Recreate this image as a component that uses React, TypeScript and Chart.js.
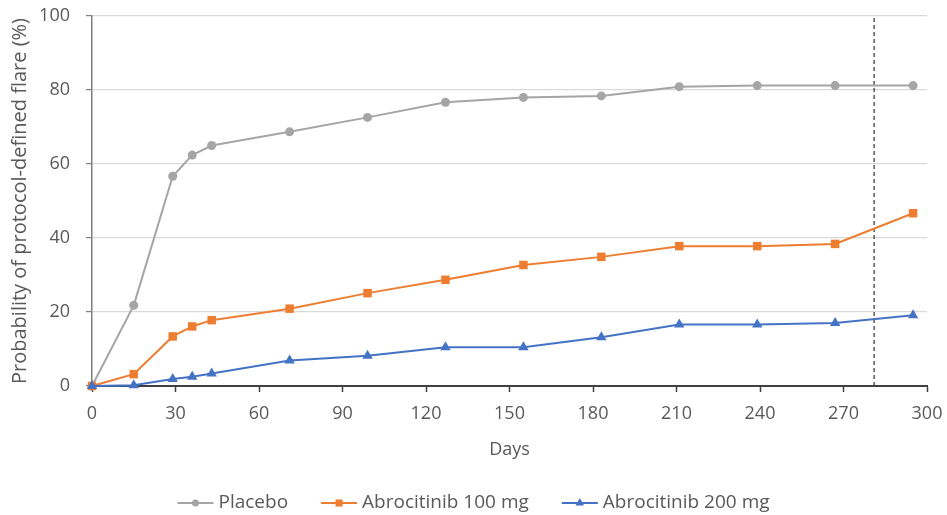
import React, { useEffect, useRef } from "react";
import { Chart, registerables } from "chart.js";

Chart.register(...registerables);

const days = [0, 15, 29, 36, 43, 71, 99, 127, 155, 183, 211, 239, 267, 295];
const placebo = [0, 21.8, 56.7, 62.4, 65.0, 68.7, 72.6, 76.7, 78.0, 78.4, 80.9, 81.2, 81.2, 81.2];
const abro100 = [0, 3.2, 13.4, 16.1, 17.8, 20.9, 25.1, 28.7, 32.7, 34.9, 37.8, 37.8, 38.4, 46.7];
const abro200 = [0, 0.2, 1.9, 2.5, 3.4, 6.9, 8.2, 10.5, 10.5, 13.2, 16.6, 16.6, 17.0, 19.1];
const cutoffDay = 281;
const seriesNames = ["Placebo", "Abrocitinib 100 mg", "Abrocitinib 200 mg"];
const xTicks = [0, 30, 60, 90, 120, 150, 180, 210, 240, 270, 300];
const yTicks = [0, 20, 40, 60, 80, 100];

const FONT = '"Open Sans", "Noto Sans", sans-serif';
const TEXT = "#595959";
const colors = ["#A5A5A5", "#ED7D31", "#4472C4"];
const styles = ["circle", "rect", "triangle"];
const radii = [4.5, 6, 6];

function drawMarker(ctx: CanvasRenderingContext2D, style: string, x: number, y: number, r: number, color: string) {
  ctx.save();
  ctx.fillStyle = color;
  ctx.beginPath();
  if (style === "circle") {
    ctx.arc(x, y, r, 0, Math.PI * 2);
  } else if (style === "rect") {
    const s = r * Math.SQRT1_2;
    ctx.rect(x - s, y - s, 2 * s, 2 * s);
  } else {
    const a = r * Math.cos(Math.PI / 6);
    ctx.moveTo(x, y - r);
    ctx.lineTo(x + a, y + r / 2);
    ctx.lineTo(x - a, y + r / 2);
    ctx.closePath();
  }
  ctx.fill();
  ctx.restore();
}

const legendPlugin = {
  id: "customLegend",
  afterDraw(chart: any) {
    const ctx = chart.ctx as CanvasRenderingContext2D;
    ctx.save();
    ctx.font = `19px ${FONT}`;
    const lineLen = 36;
    const gapText = 5;
    const gapItem = 33;
    const widths = seriesNames.map((n) => lineLen + gapText + ctx.measureText(n).width);
    const total = widths.reduce((a, b) => a + b, 0) + gapItem * (seriesNames.length - 1);
    let x = (chart.width - total) / 2;
    const y = 503;
    seriesNames.forEach((name, i) => {
      ctx.strokeStyle = colors[i];
      ctx.lineWidth = 2;
      ctx.beginPath();
      ctx.moveTo(x, y);
      ctx.lineTo(x + lineLen, y);
      ctx.stroke();
      drawMarker(ctx, styles[i], x + lineLen / 2, y, i === 0 ? 3.5 : 5, colors[i]);
      ctx.fillStyle = TEXT;
      ctx.textAlign = "left";
      ctx.textBaseline = "middle";
      ctx.fillText(name, x + lineLen + gapText, y);
      x += widths[i] + gapItem;
    });
    ctx.restore();
  },
};

export default function App() {
  const ref = useRef<HTMLCanvasElement | null>(null);

  useEffect(() => {
    document.body.style.margin = "0";
    const canvas = ref.current;
    if (!canvas) return;
    const series = [placebo, abro100, abro200];
    const datasets: any[] = series.map((vals, i) => ({
      label: seriesNames[i],
      data: days.map((d, j) => ({ x: d, y: vals[j] })),
      borderColor: colors[i],
      backgroundColor: colors[i],
      borderWidth: 2,
      pointStyle: styles[i],
      pointRadius: radii[i],
      pointBorderWidth: 0,
      pointBackgroundColor: colors[i],
      tension: 0,
      clip: false,
      order: 3 - i,
    }));
    datasets.push({
      label: "cutoff",
      data: [
        { x: cutoffDay, y: 0 },
        { x: cutoffDay, y: 100 },
      ],
      borderColor: "#404040",
      borderWidth: 1.3,
      borderDash: [4, 3],
      pointRadius: 0,
      order: 4,
    });

    const chart = new Chart(canvas, {
      type: "line",
      data: { datasets },
      plugins: [legendPlugin],
      options: {
        animation: false,
        responsive: false,
        layout: { padding: { top: 16, right: 20, left: 0, bottom: 0 } },
        plugins: { legend: { display: false }, tooltip: { enabled: false } },
        scales: {
          x: {
            type: "linear",
            min: 0,
            max: 300,
            afterBuildTicks: (s: any) => {
              s.ticks = xTicks.map((v) => ({ value: v }));
            },
            afterFit: (s: any) => {
              s.height = 129;
              s.paddingLeft = 0;
              s.paddingRight = 0;
            },
            ticks: { color: TEXT, font: { family: FONT, size: 18 }, padding: 11, maxRotation: 0, autoSkip: false },
            grid: { drawOnChartArea: false, tickLength: 6, tickColor: "#404040", tickWidth: 1.5 },
            border: { color: "#404040", width: 2 },
            title: {
              display: true,
              text: "Days",
              color: TEXT,
              font: { family: FONT, size: 18 },
              padding: { top: 0, bottom: 54 },
            },
          },
          y: {
            min: 0,
            max: 100,
            afterBuildTicks: (s: any) => {
              s.ticks = yTicks.map((v) => ({ value: v }));
            },
            afterFit: (s: any) => {
              s.width = 92;
              s.paddingTop = 0;
              s.paddingBottom = 0;
            },
            ticks: { color: TEXT, font: { family: FONT, size: 18 }, padding: 16 },
            grid: { color: "#D9D9D9", lineWidth: 1.2, tickLength: 6, tickColor: "#7F7F7F" },
            border: { color: "#7F7F7F", width: 1.5 },
            title: {
              display: true,
              text: "Probability of protocol-defined flare (%)",
              color: TEXT,
              font: { family: FONT, size: 20 },
              padding: { top: 8, bottom: 0 },
            },
          },
        },
      },
    });
    return () => chart.destroy();
  }, []);

  return (
    <div style={{ position: "fixed", left: 0, top: 0, width: 947, height: 515, background: "#fff" }}>
      <canvas ref={ref} width={947} height={515} style={{ width: 947, height: 515 }} />
    </div>
  );
}
